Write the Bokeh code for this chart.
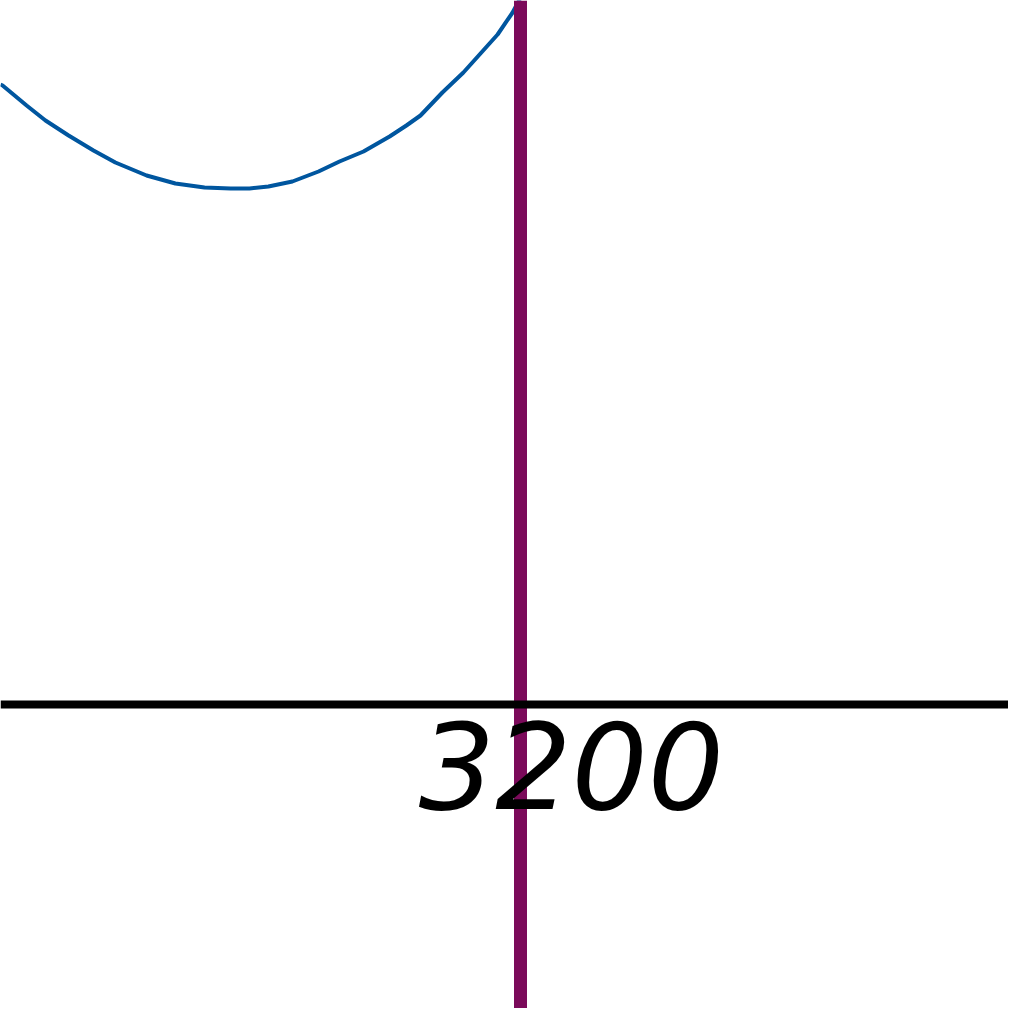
from bokeh.plotting import figure
from bokeh.models import Range1d
from bokeh.core.properties import value
from bokeh.embed import file_html
from bokeh.resources import INLINE

# Data
curve_x = [3010.0, 3010.7, 3018.7, 3025.0, 3032.7, 3041.0, 3048.3, 3058.7, 3068.3,
           3078.0, 3086.7, 3093.0, 3099.3, 3107.3, 3116.0, 3123.0, 3131.0, 3139.7,
           3145.3, 3150.0, 3157.3, 3164.3, 3170.3, 3175.7, 3180.7, 3183.2]
curve_y = [6.20, 6.19, 5.99, 5.84, 5.69, 5.54, 5.42, 5.29, 5.21,
           5.17, 5.16, 5.16, 5.18, 5.23, 5.33, 5.43, 5.53, 5.68,
           5.79, 5.89, 6.12, 6.32, 6.52, 6.70, 6.92, 7.06]
marker_x = [3183.2]
axis_y = [0]
tick_values = [3200]
tick_labels = ["3200"]

p = figure(width=1008, height=1008, output_backend="svg", toolbar_location=None,
           x_range=Range1d(3010.0, 3346.0), y_range=Range1d(-3.04, 7.04),
           min_border=0, outline_line_color=None)
p.axis.visible = False
p.grid.visible = False
p.background_fill_color = "white"

p.line(curve_x, curve_y, line_color="#00569F", line_width=4)
p.vspan(x=marker_x, line_color="#7B0A5A", line_width=13)
p.hspan(y=axis_y, line_color="black", line_width=8)
p.text(x=tick_values, y=[axis_y[0]] * len(tick_values), text=tick_labels,
       text_font=value("DejaVu Sans"), text_font_style="italic",
       text_font_size="120px", text_align="center", text_baseline="alphabetic",
       y_offset=60, x_offset=1, text_color="black")

open("out.html", "w").write(file_html(p, INLINE))
